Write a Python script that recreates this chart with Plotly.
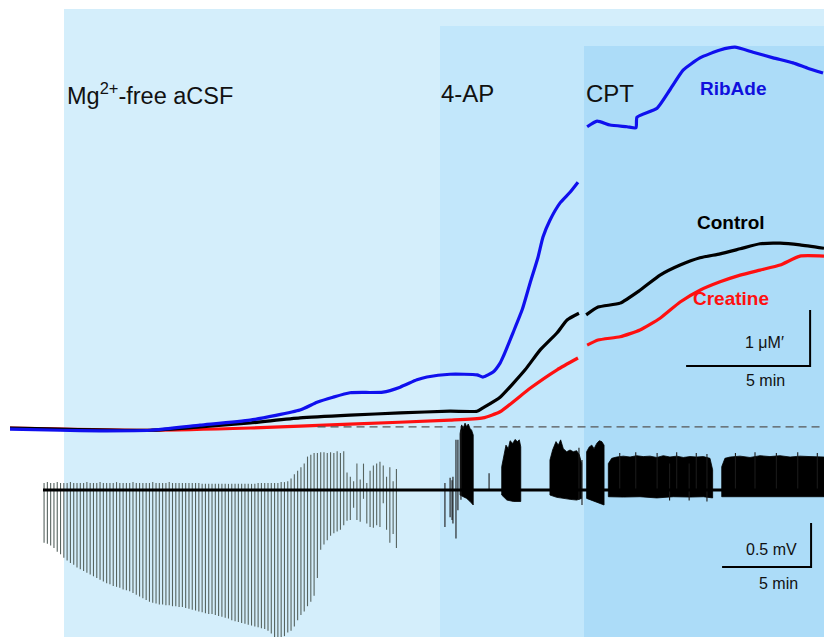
import plotly.graph_objects as go

W, H = 824, 637

# ---------------- Upper panel: fluorescence traces (time in min, signal in µM') ----------------
blue_t = [0, 2.02, 3.63, 5.65, 7.66, 9.68, 11.69, 12.38, 13.02, 13.71, 15.04, 15.73, 16.41, 16.81,
          17.74, 18.83, 19.07, 19.48, 19.76, 19.88, 20.28, 20.65, 20.97, 21.29, 21.49, 21.77, 22.18,
          22.58, 22.90, None,
          23.27, 23.67, 24.19, 24.88, 25.24, 25.28, 26.09, 26.61, 27.14, 27.82, 28.63, 29.23, 29.96,
          30.77, 31.57, 32.14, 32.78]
blue_v = [-0.02, -0.04, -0.05, -0.04, 0.05, 0.14, 0.32, 0.46, 0.55, 0.63, 0.64, 0.73, 0.86, 0.91,
          0.96, 0.95, 0.91, 1.00, 1.16, 1.27, 1.70, 2.11, 2.59, 3.05, 3.41, 3.71, 4.02,
          4.21, 4.39, None,
          5.38, 5.48, 5.41, 5.38, 5.36, 5.55, 5.71, 6.04, 6.39, 6.61, 6.75, 6.80, 6.71,
          6.61, 6.52, 6.43, 6.34]

black_t = [0, 5.65, 7.66, 9.68, 11.69, 13.71, 15.73, 17.74, 18.83, 19.07, 19.76, 20.77, 21.37,
           22.06, 22.46, 22.94, None,
           23.23, 23.71, 24.60, 25.40, 26.21, 27.02, 27.82, 28.63, 29.44, 30.24, 31.05, 31.85, 32.82]
black_v = [0.0, -0.04, 0.02, 0.09, 0.18, 0.23, 0.27, 0.30, 0.30, 0.36, 0.55, 1.04, 1.39,
           1.70, 1.93, 2.05, None,
           2.02, 2.16, 2.23, 2.46, 2.73, 2.91, 3.04, 3.11, 3.20, 3.29, 3.30, 3.27, 3.21]

red_t = [0, 5.65, 9.68, 13.71, 17.74, 19.07, 19.76, 20.97, 22.06, 22.90, None,
         23.27, 23.71, 24.60, 25.40, 26.21, 27.02, 27.82, 28.63, 29.44, 30.24, 31.05, 31.85, 32.82]
red_v = [0.0, -0.04, 0.0, 0.07, 0.14, 0.18, 0.29, 0.71, 1.04, 1.25, None,
         1.48, 1.57, 1.63, 1.75, 1.96, 2.25, 2.46, 2.61, 2.73, 2.82, 2.91, 3.07, 3.07]

# ---------------- Lower panel: field potential (time in min, mV) ----------------
# interictal spikes in Mg2+-free aCSF, evenly spaced
spike_start, spike_step = 0.06, 0.185
spike_bottom = [-0.60, -0.61, -0.63, -0.66, -0.70, -0.73, -0.77, -0.80, -0.83, -0.85, -0.88, -0.90,
                -0.92, -0.94, -0.96, -0.98, -1.00, -1.02, -1.04, -1.06, -1.07, -1.09, -1.10, -1.11,
                -1.13, -1.14, -1.15, -1.17, -1.19, -1.21, -1.23, -1.25, -1.27, -1.28, -1.29, -1.30,
                -1.30, -1.31, -1.31, -1.32, -1.32, -1.33, -1.33, -1.34, -1.35, -1.36, -1.37, -1.38,
                -1.39, -1.40, -1.41, -1.41, -1.42, -1.43, -1.44, -1.45, -1.46, -1.48, -1.49, -1.50,
                -1.51, -1.52, -1.53, -1.54, -1.55, -1.56, -1.57, -1.58, -1.60, -1.63, -1.67, -1.70,
                -1.68, -1.66, -1.62, -1.60, -1.55, -1.48, -1.42, -1.38, -1.32, -1.27, -1.20, -1.00,
                -0.68, -0.62, -0.57, -0.52, -0.49, -0.47, -0.45, -0.40, -0.35, -0.34, -0.20, -0.34,
                -0.36, -0.10, -0.38, -0.42, -0.43, -0.40, -0.42, -0.15, -0.45, -0.60, -0.50, -0.66]
spike_top = [0.08, 0.09, 0.08, 0.08, 0.09, 0.08, 0.08, 0.08, 0.09, 0.08, 0.08, 0.08,
             0.08, 0.09, 0.08, 0.08, 0.08, 0.09, 0.08, 0.08, 0.08, 0.08, 0.09, 0.08,
             0.08, 0.08, 0.08, 0.09, 0.08, 0.08, 0.08, 0.08, 0.08, 0.09, 0.08, 0.08,
             0.08, 0.08, 0.09, 0.08, 0.08, 0.08, 0.08, 0.08, 0.08, 0.08, 0.08, 0.08,
             0.07, 0.07, 0.07, 0.07, 0.07, 0.07, 0.07, 0.07, 0.07, 0.07, 0.07, 0.07,
             0.07, 0.07, 0.07, 0.07, 0.07, 0.08, 0.08, 0.08, 0.08, 0.08, 0.08, 0.08,
             0.09, 0.09, 0.10, 0.13, 0.18, 0.22, 0.26, 0.30, 0.38, 0.40, 0.42, 0.42,
             0.43, 0.43, 0.42, 0.43, 0.42, 0.44, 0.42, 0.44, 0.20, 0.15, 0.10, 0.30,
             0.12, 0.30, 0.08, 0.22, 0.28, 0.30, 0.32, 0.28, 0.15, 0.26, 0.10, 0.24]

# dense bursts after 4-AP and CPT:
# (upper envelope times, upper envelope mV, lower envelope times, lower envelope mV)
bursts = [
    ([23.43, 23.52, 23.61, 23.71, 23.80, 23.89, 23.99, 24.08, 24.17],
     [0.64, 0.74, 0.70, 0.76, 0.72, 0.75, 0.70, 0.68, 0.625],
     [23.43, 23.61, 23.80, 23.99, 24.17], [-0.057, -0.076, -0.095, -0.13, -0.17]),
    ([25.77, 25.90, 26.01, 26.14, 26.24, 26.39, 26.52, 26.65, 26.76, 26.84],
     [0.265, 0.417, 0.51, 0.47, 0.56, 0.53, 0.575, 0.55, 0.57, 0.49],
     [25.77, 26.06, 26.43, 26.84], [-0.057, -0.114, -0.13, -0.13]),
    ([28.48, 28.63, 28.82, 28.95, 29.08, 29.23, 29.42, 29.61, 29.79, 29.98, 30.13, 30.26],
     [0.34, 0.455, 0.55, 0.51, 0.57, 0.47, 0.435, 0.455, 0.435, 0.447, 0.40, 0.30],
     [28.48, 28.86, 29.23, 29.61, 29.98, 30.26], [-0.057, -0.083, -0.095, -0.106, -0.114, -0.095]),
    ([30.54, 30.69, 30.83, 30.96, 31.11, 31.25, 31.39, 31.52],
     [0.435, 0.49, 0.51, 0.47, 0.53, 0.56, 0.55, 0.51],
     [30.54, 31.01, 31.52], [-0.095, -0.13, -0.17]),
    ([31.76, 31.95, 32.23, 32.60, 32.98, 33.35, 33.72, 34.10, 34.48, 34.85, 35.22, 35.60, 35.97,
      36.35, 36.72, 37.10, 37.47, 37.62],
     [0.30, 0.36, 0.375, 0.385, 0.375, 0.39, 0.38, 0.385, 0.37, 0.39, 0.375, 0.385, 0.37,
      0.38, 0.375, 0.38, 0.36, 0.23],
     [31.76, 32.60, 33.54, 34.48, 35.41, 36.35, 37.10, 37.62],
     [-0.076, -0.08, -0.076, -0.09, -0.076, -0.08, -0.076, -0.09]),
    ([38.13, 38.31, 38.60, 39.16, 39.72, 40.28, 40.84, 41.40, 41.97, 42.53, 43.09, 43.88],
     [0.265, 0.36, 0.375, 0.385, 0.37, 0.39, 0.38, 0.39, 0.375, 0.385, 0.38, 0.375],
     [38.13, 39.16, 40.28, 41.40, 42.53, 43.88],
     [-0.076, -0.08, -0.076, -0.08, -0.076, -0.076]),
]
# isolated discharges around and on top of the bursts: (time, top, bottom)
single_spikes = [(22.58, 0.08, -0.42), (22.87, 0.14, -0.31), (22.98, 0.11, -0.34), (23.03, 0.15, -0.38),
                 (23.20, 0.57, -0.55), (23.31, 0.57, -0.23), (23.48, 0.68, -0.11), (25.06, 0.19, 0.0),
                 (30.11, 0.48, -0.11), (30.28, 0.34, -0.17),
                 (32.40, 0.42, 0.0), (33.30, 0.43, 0.0), (34.50, 0.42, 0.0), (35.20, 0.30, -0.12),
                 (35.60, 0.43, 0.0), (36.30, 0.30, -0.12), (36.70, 0.42, 0.0), (37.30, 0.41, -0.13),
                 (38.90, 0.42, 0.0), (40.00, 0.43, 0.0), (41.20, 0.42, 0.0), (42.40, 0.43, 0.0),
                 (43.50, 0.42, 0.0)]
trace_start, trace_end = 0.0, 43.88

# ---------------- axes ranges (upper: min / µM', lower: min / mV) ----------------
top_x_range = [-0.403, 32.82]
top_y_range = [-3.732, 7.643]
bot_x_range = [-2.416, 43.876]
bot_y_range = [-1.670, 5.568]


def px(x, y):
    """Screen pixel position -> paper coordinates."""
    return x / W, 1 - y / H


fig = go.Figure()

# Upper traces
for t, v, c in [(red_t, red_v, "#ff1010"), (black_t, black_v, "#000000"), (blue_t, blue_v, "#1010ee")]:
    fig.add_trace(go.Scatter(x=t, y=v, mode="lines", line=dict(color=c, width=3.2, shape="spline", smoothing=0.5),
                             xaxis="x", yaxis="y", hoverinfo="skip", connectgaps=False))

# Zero reference (dashed)
fig.add_trace(go.Scatter(x=[12.4, top_x_range[1]], y=[0.02, 0.02], mode="lines",
                         line=dict(color="#555555", width=1.3, dash="8px,5px"), xaxis="x", yaxis="y",
                         hoverinfo="skip"))

# Interictal spikes
sx, sy = [], []
for i, (b, tp) in enumerate(zip(spike_bottom, spike_top)):
    t = spike_start + i * spike_step
    sx += [t, t, None]
    sy += [b, tp, None]
fig.add_trace(go.Scatter(x=sx, y=sy, mode="lines", line=dict(color="#56635f", width=1.1),
                         xaxis="x2", yaxis="y2", hoverinfo="skip"))

# Bursts as filled envelopes
bx, by = [], []
for ut, uv, lt, lv in bursts:
    bx += list(ut) + list(reversed(lt)) + [ut[0], None]
    by += list(uv) + list(reversed(lv)) + [uv[0], None]
fig.add_trace(go.Scatter(x=bx, y=by, mode="lines", fill="toself", fillcolor="#000000",
                         line=dict(color="#000000", width=0.8), xaxis="x2", yaxis="y2", hoverinfo="skip"))

# Isolated discharges
ix, iy = [], []
for t, tp, b in single_spikes:
    ix += [t, t, None]
    iy += [b, tp, None]
fig.add_trace(go.Scatter(x=ix, y=iy, mode="lines", line=dict(color="#1a1a1a", width=1.1),
                         xaxis="x2", yaxis="y2", hoverinfo="skip"))

# Baseline of the field potential
fig.add_trace(go.Scatter(x=[trace_start, trace_end], y=[0, 0], mode="lines",
                         line=dict(color="#000000", width=3), xaxis="x2", yaxis="y2", hoverinfo="skip"))

# Scale bars
top_bar_t, top_bar_v = 27.26, 1.107
fig.add_trace(go.Scatter(x=[top_bar_t, top_bar_t + 5, top_bar_t + 5], y=[top_bar_v, top_bar_v, top_bar_v + 1],
                         mode="lines", line=dict(color="#000000", width=2), xaxis="x", yaxis="y",
                         hoverinfo="skip"))
bot_bar_t, bot_bar_v = 38.15, -0.875
fig.add_trace(go.Scatter(x=[bot_bar_t, bot_bar_t + 5, bot_bar_t + 5], y=[bot_bar_v, bot_bar_v, bot_bar_v + 0.5],
                         mode="lines", line=dict(color="#000000", width=2), xaxis="x2", yaxis="y2",
                         hoverinfo="skip"))

# Treatment periods
shapes = []
for (x0, y0), col in [((64, 9), "#d4eefb"), ((440, 26), "#c2e7fb"), ((584, 46), "#acdcf8")]:
    a0, b1 = px(x0, y0)
    shapes.append(dict(type="rect", xref="paper", yref="paper", x0=a0, x1=1, y0=0, y1=b1,
                       fillcolor=col, line=dict(width=0), layer="below"))

font = "Liberation Sans, Arial, sans-serif"
ann = []


def label(text, x, y, size, color="#111111", bold=False, anchor="left"):
    a, b = px(x, y)
    ann.append(dict(text=f"<b>{text}</b>" if bold else text, x=a, y=b, xref="paper", yref="paper",
                    xanchor=anchor, yanchor="middle", showarrow=False,
                    font=dict(family=font, size=size, color=color)))


label("Mg<sup>2+</sup>-free aCSF", 65, 94, 23.5)
label("4-AP", 439, 94, 24)
label("CPT", 584, 94, 24)
label("RibAde", 698, 88, 19, "#1010dd", True)
label("Control", 695, 222, 19, "#000000", True)
label("Creatine", 691, 298, 19, "#ff1010", True)
label("1 μM′", 786, 342, 16, anchor="right")
label("5 min", 765, 380, 16, anchor="center")
label("0.5 mV", 799, 549, 16, anchor="right")
label("5 min", 778, 583, 16, anchor="center")

ax = dict(visible=False, showgrid=False, zeroline=False, fixedrange=True)
fig.update_layout(
    width=W, height=H, margin=dict(l=0, r=0, t=0, b=0),
    paper_bgcolor="white", plot_bgcolor="rgba(0,0,0,0)", showlegend=False,
    shapes=shapes, annotations=ann,
    xaxis=dict(ax, range=top_x_range, domain=[0, 1]),
    yaxis=dict(ax, range=top_y_range, domain=[0, 1]),
    xaxis2=dict(ax, range=bot_x_range, domain=[0, 1], overlaying="x"),
    yaxis2=dict(ax, range=bot_y_range, domain=[0, 1], overlaying="y"),
)

fig.write_html("out.html", config={"displayModeBar": False})
